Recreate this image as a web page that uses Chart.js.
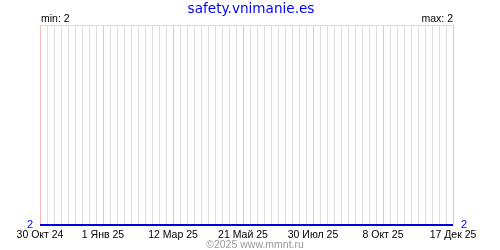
<!DOCTYPE html>
<html>
<head>
<meta charset="utf-8">
<script src="https://cdn.jsdelivr.net/npm/chart.js@4"></script>
<style>
  html, body { margin: 0; padding: 0; background: #fff; }
  #wrap { width: 500px; height: 250px; }
</style>
</head>
<body>
<div id="wrap"><canvas id="myChart" width="500" height="250"></canvas></div>
<script>
var title = 'safety.vnimanie.es';
var footer = '\u00a92025 www.mmnt.ru';
var startDate = '2024-10-30';
var endDate = '2025-12-17';
// series: date -> value
var pointDates = ['2024-10-30', '2025-12-17'];
var pointValues = [2, 2];
// x tick labels (weekly grid, a label every ~10 weeks)
var tickLabels = ['30 Окт 24', '1 Янв 25', '12 Мар 25', '21 Май 25', '30 Июл 25', '8 Окт 25', '17 Дек 25'];
var tickWeeks = [0, 9, 19, 29, 39, 49, 59];
var minValue = 2, maxValue = 2;

function dayOf(s) {
    var p = s.split('-');
    return (Date.UTC(+p[0], +p[1] - 1, +p[2]) - Date.UTC(2024, 9, 30)) / 86400000;
}
var totalDays = dayOf(endDate) - dayOf(startDate);

var points = pointDates.map(function (d, i) { return { x: dayOf(d), y: pointValues[i] }; });

var textPlugin = {
    id: 'texts',
    afterDraw: function (chart) {
        var c = chart.ctx, a = chart.chartArea;
        c.save();
        c.textBaseline = 'alphabetic';
        c.fillStyle = '#0000ff';
        c.font = '13.6px "DejaVu Sans"';
        c.textAlign = 'center';
        c.fillText(title, 251, 13);
        c.fillStyle = '#000';
        c.font = '10.5px "Liberation Sans"';
        c.textAlign = 'left';
        c.fillText('min: ' + minValue, a.left + 1, 22);
        c.textAlign = 'right';
        c.fillText('max: ' + maxValue, a.right, 22);
        c.fillStyle = '#999999';
        c.font = '10.5px "Liberation Sans"';
        c.textAlign = 'center';
        c.fillText(footer, 255, 248);
        c.restore();
    }
};

function yAxis(pos, pad) {
    return {
        type: 'linear',
        position: pos,
        min: 2,
        max: 3,
        afterBuildTicks: function (s) { s.ticks = [{ value: 2 }, { value: 3 }]; },
        afterFit: function (s) { s.width = pos === 'left' ? 40 : 47; },
        border: { display: false },
        grid: {
            drawTicks: false,
            color: function (ctx) { return ctx.tick && ctx.tick.value === 3 ? '#dddddd' : 'rgba(0,0,0,0)'; }
        },
        ticks: {
            padding: pad,
            color: '#0000ff',
            font: { family: 'Liberation Sans', size: 11 },
            callback: function (v) { return v === 2 ? '2' : ''; }
        }
    };
}

var ctx = document.getElementById('myChart').getContext('2d');
var myChart = new Chart(ctx, {
    type: 'line',
    data: {
        datasets: [{
            data: points,
            borderColor: '#0000dd',
            borderWidth: 2,
            pointRadius: 0,
            tension: 0,
            clip: false
        }]
    },
    plugins: [textPlugin],
    options: {
        responsive: false,
        animation: false,
        layout: { padding: { top: 25, left: 0, right: 0, bottom: 0 } },
        plugins: {
            legend: { display: false },
            title: { display: false },
            tooltip: { enabled: false }
        },
        scales: {
            x: {
                type: 'linear',
                min: 0,
                max: totalDays,
                afterBuildTicks: function (s) {
                    var t = [];
                    for (var d = 0; d <= totalDays; d += 7) t.push({ value: d });
                    s.ticks = t;
                },
                afterFit: function (s) { s.height = 25; },
                border: { display: false },
                grid: {
                    drawTicks: false,
                    color: function (ctx) {
                        var w = ctx.tick ? Math.round(ctx.tick.value / 7) : -1;
                        return tickWeeks.indexOf(w) >= 0 ? '#ffb8b8' : '#dddddd';
                    }
                },
                ticks: {
                    autoSkip: false,
                    maxRotation: 0,
                    padding: 4,
                    color: '#000',
                    font: { family: 'Liberation Sans', size: 10.5 },
                    callback: function (v, i) {
                        var k = tickWeeks.indexOf(i);
                        return k >= 0 ? tickLabels[k] : '';
                    }
                }
            },
            y: yAxis('left', 7),
            y2: yAxis('right', 8)
        }
    }
});
</script>
</body>
</html>
